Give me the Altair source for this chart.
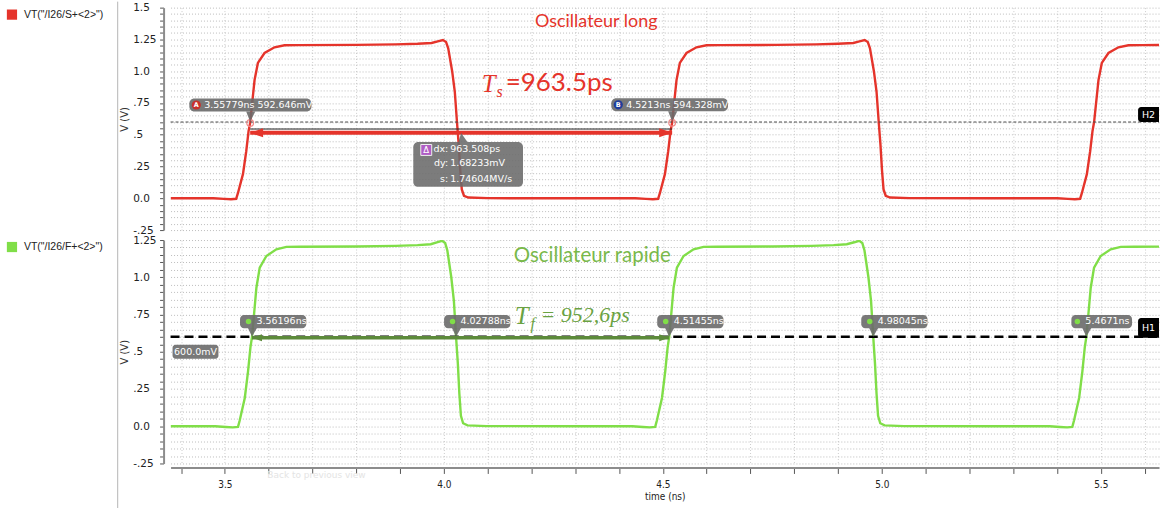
import altair as alt
import pandas as pd

# ---------------------------------------------------------------- data ----
T_MIN, T_MAX = 3.376, 5.633          # visible time window (ns)
THRESHOLD = 0.6                      # H1 / H2 horizontal markers (V)

S_NAME = 'VT("/I26/S+<2>")'
F_NAME = 'VT("/I26/F+<2>")'

# slow oscillator output, time (ns) / voltage (V)
S_TIME = [3.376, 3.4738, 3.4978, 3.5138, 3.5258, 3.5298, 3.5413, 3.5488, 3.5542, 3.5578, 3.5624,
          3.5678, 3.5754, 3.5906, 3.6134, 3.6362, 3.6668,
          3.80, 3.89, 3.94, 3.972, 3.986, 3.998,
          4.005, 4.010, 4.019, 4.025, 4.030, 4.034, 4.0375, 4.041, 4.046, 4.056, 4.10, 4.30,
          4.4373, 4.4613, 4.4773, 4.4893, 4.4933, 4.5048, 4.5123, 4.5177, 4.5213, 4.5259, 4.5313,
          4.5389, 4.5541, 4.5769, 4.5997, 4.6303,
          4.76, 4.85, 4.90, 4.935, 4.949, 4.961,
          4.968, 4.973, 4.982, 4.988, 4.993, 4.997, 5.0005, 5.004, 5.009, 5.019, 5.063, 5.25,
          5.4008, 5.4248, 5.4408, 5.4528, 5.4568, 5.4683, 5.4758, 5.4812, 5.4848, 5.4894, 5.4948,
          5.5024, 5.5176, 5.5404, 5.5632, 5.5938, 5.633]
S_VOLT = [0.0, 0.0, -0.005, -0.008, -0.004, 0.04, 0.19, 0.37, 0.53, 0.593, 0.75,
          0.93, 1.065, 1.143, 1.188, 1.204, 1.205,
          1.207, 1.211, 1.216, 1.222, 1.235, 1.245,
          1.23, 1.18, 1.00, 0.84, 0.60, 0.42, 0.22, 0.07, 0.02, 0.006, 0.001, 0.0,
          0.0, -0.005, -0.008, -0.004, 0.04, 0.19, 0.37, 0.53, 0.594, 0.75, 0.93,
          1.065, 1.143, 1.188, 1.204, 1.205,
          1.207, 1.211, 1.216, 1.222, 1.235, 1.245,
          1.23, 1.18, 1.00, 0.84, 0.60, 0.42, 0.22, 0.07, 0.02, 0.006, 0.001, 0.0,
          0.0, -0.005, -0.008, -0.004, 0.04, 0.19, 0.37, 0.53, 0.60, 0.75, 0.93,
          1.065, 1.143, 1.188, 1.204, 1.205, 1.206]

# fast oscillator output, time (ns) / voltage (V)
F_TIME = [3.376, 3.478, 3.502, 3.518, 3.530, 3.534, 3.5455, 3.553, 3.5584, 3.562, 3.5666,
          3.572, 3.5796, 3.5948, 3.6176, 3.6404, 3.671,
          3.80, 3.89, 3.94, 3.97, 3.984, 3.996,
          4.003, 4.008, 4.017, 4.023, 4.0279, 4.032, 4.0354, 4.039, 4.044, 4.054, 4.098, 4.30,
          4.4306, 4.4546, 4.4706, 4.4826, 4.4866, 4.4981, 4.5056, 4.511, 4.5146, 4.5192, 4.5246,
          4.5322, 4.5474, 4.5702, 4.593, 4.6236,
          4.75, 4.84, 4.89, 4.92, 4.937, 4.9485,
          4.9555, 4.9605, 4.9695, 4.9755, 4.9805, 4.9845, 4.988, 4.9915, 4.9965, 5.0065, 5.0505, 5.25,
          5.3831, 5.4071, 5.4231, 5.4351, 5.4391, 5.4506, 5.4581, 5.4635, 5.4671, 5.4717, 5.4771,
          5.4847, 5.4999, 5.5227, 5.5455, 5.5761, 5.633]
F_VOLT = [0.0, 0.0, -0.005, -0.008, -0.004, 0.04, 0.19, 0.37, 0.53, 0.60, 0.75,
          0.93, 1.065, 1.143, 1.188, 1.204, 1.205,
          1.207, 1.211, 1.216, 1.222, 1.235, 1.245,
          1.23, 1.18, 1.00, 0.84, 0.60, 0.42, 0.22, 0.07, 0.02, 0.006, 0.001, 0.0,
          0.0, -0.005, -0.008, -0.004, 0.04, 0.19, 0.37, 0.53, 0.60, 0.75, 0.93,
          1.065, 1.143, 1.188, 1.204, 1.205,
          1.207, 1.211, 1.216, 1.222, 1.235, 1.245,
          1.23, 1.18, 1.00, 0.84, 0.60, 0.42, 0.22, 0.07, 0.02, 0.006, 0.001, 0.0,
          0.0, -0.005, -0.008, -0.004, 0.04, 0.19, 0.37, 0.53, 0.60, 0.75, 0.93,
          1.065, 1.143, 1.188, 1.204, 1.205, 1.206]

# cursor readouts on the slow signal
CURSOR_T = [3.55779, 4.5213]
CURSOR_MV = [592.646, 594.328]
CURSOR_TAG = ["A", "B"]
DELTA_KEYS = ["dx:", "dy:", "s:"]
DELTA_VALS = ["963.508ps", "1.68233mV", "1.74604MV/s"]
H2_LEVEL_TEXT = "600.0mV"

# threshold crossings of the fast signal (ns)
F_CROSS_T = [3.56196, 4.02788, 4.51455, 4.98045, 5.4671]

TITLE_S = "Oscillateur long"
TITLE_F = "Oscillateur rapide"
PERIOD_S = "=963.5ps"
PERIOD_F = "= 952,6ps"

# axis ticks and labels
X_TICKS = [round(3.4 + 0.1 * i, 1) for i in range(23)]
Y_TOP_TICKS = [round(-0.25 + 0.05 * i, 2) for i in range(36)]
Y_BOT_TICKS = [round(-0.25 + 0.05 * i, 2) for i in range(31)]
Y_LABEL_VALUES = [1.5, 1.25, 1.0, 0.75, 0.5, 0.25, 0.0, -0.25]
Y_LABEL_TEXT = ["1.5", "1.25", "1.0", ".75", ".5", ".25", "0.0", "-.25"]

# ------------------------------------------------------------- styling ----
W, H_TOP, H_BOT = 991, 223, 224
FONT = "DejaVu Sans"
GRID_X = "#cccccc"
GRID_Y = "#bdbdbd"
RED = "#e5342b"
GREEN = "#80de48"
GREEN_TXT = "#79b94a"
GREEN_TF = "#6aa242"
GREEN_ARROW = "#5c8a3a"
TAG_BG = "#6a6a6a"

S_ARROW_V = 0.515       # level of the period arrow in the upper panel
F_ARROW_V = 0.594       # level of the period arrow in the lower panel

Y_EXPR = " : ".join(
    f"round(datum.value * 100) == {round(v * 100)} ? '{s}'"
    for v, s in zip(Y_LABEL_VALUES, Y_LABEL_TEXT)
) + " : ''"
X_EXPR = "abs(datum.value * 2 - round(datum.value * 2)) < 0.001 ? format(datum.value, '.1f') : ''"

X_SCALE = alt.Scale(domain=[T_MIN, T_MAX], nice=False, zero=False)


def y_enc(ticks, domain):
    return alt.Y("v:Q", scale=alt.Scale(domain=domain, nice=False, zero=False),
                 axis=alt.Axis(values=ticks, labelExpr=Y_EXPR, labelOverlap=False,
                               labelBound=False, labelAlign="left", labelPadding=27,
                               labelFont=FONT, labelFontSize=10.5, labelColor="#222",
                               tickSize=4, tickColor="#555", domainColor="#8c8c8c",
                               domainWidth=2, offset=7, grid=True, gridColor=GRID_Y,
                               gridDash=[1, 2], title="V (V)", titleFont=FONT,
                               titleFontSize=10, titleFontWeight="normal", titleColor="#333",
                               titleX=-39, titleBaseline="middle"))


X_TOP = alt.X("t:Q", scale=X_SCALE,
              axis=alt.Axis(values=X_TICKS, labels=False, ticks=False, domain=False,
                            title=None, grid=True, gridColor=GRID_X, gridDash=[1, 2]))
X_BOT = alt.X("t:Q", scale=X_SCALE,
              axis=alt.Axis(values=X_TICKS, labelExpr=X_EXPR, labelOverlap=False,
                            labelFlush=False, labelFont="DejaVu Sans Condensed",
                            labelFontSize=10, labelColor="#222", labelPadding=6, tickSize=6,
                            tickColor="#555", domainColor="#8c8c8c", domainWidth=2, offset=4,
                            grid=True, gridColor=GRID_X, gridDash=[1, 2], title="time (ns)",
                            titleFont="DejaVu Sans Condensed", titleFontSize=10,
                            titleFontWeight="normal", titleColor="#222", titlePadding=2))


def at(t, v, **extra):
    return pd.DataFrame({"t": [t] if not isinstance(t, list) else t,
                         "v": [v] if not isinstance(v, list) else v, **extra})


# every layer below inherits x = t and y = v (with the panel axes) from its parent layer
def arrow(t1, t2, v, color, width, head_size):
    band = alt.Chart(pd.DataFrame({"t": [t1], "t2": [t2], "v": [v]})).mark_rule(
        color=color, strokeWidth=width).encode(x2=alt.X2("t2:Q"))
    left = alt.Chart(at(t1, v)).mark_point(
        shape="M0,0L2,-0.7L2,0.7Z", filled=True, size=head_size, color=color, opacity=1,
        strokeWidth=0)
    right = alt.Chart(at(t2, v)).mark_point(
        shape="M0,0L-2,-0.7L-2,0.7Z", filled=True, size=head_size, color=color, opacity=1,
        strokeWidth=0)
    return [band, left, right]


def legend(name, color):
    d = pd.DataFrame({"n": [name]})
    sq = alt.Chart(d).mark_square(size=105, color=color, opacity=1).encode(
        x=alt.value(-159), y=alt.value(7))
    tx = alt.Chart(d).mark_text(align="left", baseline="middle", font="Liberation Sans",
                                fontSize=10.5, color="#222").encode(
        x=alt.value(-147), y=alt.value(7), text="n:N")
    return [sq, tx]


def period_label(t, v, main, sub, color, main_font, main_style, size, t_dx, sub_dx):
    d = at(t, v, a=["T"], b=[sub], c=[main])
    big_t = alt.Chart(d).mark_text(align="center", baseline="middle", dx=t_dx, dy=1,
                                   font="Liberation Serif", fontStyle="italic",
                                   fontSize=25, color=color).encode(text="a:N")
    sub_t = alt.Chart(d).mark_text(align="center", baseline="middle", dx=sub_dx, dy=9,
                                   font="Liberation Serif", fontStyle="italic",
                                   fontSize=16, color=color).encode(text="b:N")
    body = alt.Chart(d).mark_text(align="left", baseline="middle", font=main_font,
                                  fontStyle=main_style, fontSize=size, color=color).encode(
        text="c:N")
    return [big_t, sub_t, body]


def h_marker(name, dy_top, dy_bot):
    d = at(T_MAX, THRESHOLD, n=[name])
    box = alt.Chart(d).mark_rect(color="black", xOffset=-21, x2Offset=0, yOffset=dy_top,
                                 y2Offset=dy_bot, cornerRadiusTopLeft=3,
                                 cornerRadiusBottomLeft=3).encode(
        x2=alt.X2("t:Q"), y2=alt.Y2("v:Q"))
    txt = alt.Chart(d).mark_text(align="center", baseline="middle", dx=-10.5,
                                 dy=(dy_top + dy_bot) / 2, color="white", font=FONT,
                                 fontSize=9.5).encode(text="n:N")
    return [box, txt]


# ---------------------------------------------------------- upper panel ----
top_layers = []

top_layers.append(alt.Chart(pd.DataFrame({"t": S_TIME, "v": S_VOLT})).mark_line(
    color=RED, strokeWidth=2.4, clip=True))

top_layers.append(alt.Chart(at(T_MIN, THRESHOLD)).mark_rule(
    color="#4a4a4a", strokeWidth=1, strokeDash=[3, 2]).encode(
    x=alt.value(0), x2=alt.value(W)))

# cursor delta line with the hand-drawn period arrow on top
top_layers.append(alt.Chart(pd.DataFrame({"t": [CURSOR_T[0]], "t2": [CURSOR_T[1]],
                                          "v": [S_ARROW_V + 0.03]})).mark_rule(
    color="#222", strokeWidth=1).encode(x2=alt.X2("t2:Q")))
top_layers += arrow(CURSOR_T[0], CURSOR_T[1], S_ARROW_V, RED, 4, 169)

cur_df = pd.DataFrame({"t": CURSOR_T, "v": [mv / 1000 for mv in CURSOR_MV]})
top_layers.append(alt.Chart(cur_df).mark_point(
    shape="circle", size=45, color="#f08a8a", strokeWidth=1.2, opacity=1))

# A / B cursor read-outs
for t, mv, tag, circ in zip(CURSOR_T, CURSOR_MV, CURSOR_TAG, ["#c9302c", "#1f3d9c"]):
    label = f"{t}ns {mv}mV"
    wbox = 18 + 5.5 * len(label)
    d = at(t, mv / 1000, tag=[tag], label=[label])
    top_layers.append(alt.Chart(d).mark_rect(
        color=TAG_BG, opacity=0.9, cornerRadius=5, xOffset=-61, x2Offset=-61 + wbox,
        yOffset=-24.5, y2Offset=-11.5).encode(x2=alt.X2("t:Q"), y2=alt.Y2("v:Q")))
    top_layers.append(alt.Chart(d).mark_point(
        shape="M0,-0.1L-0.35,-1L0.45,-1Z", size=529, filled=True, color=TAG_BG,
        opacity=0.9, strokeWidth=0))
    top_layers.append(alt.Chart(d).mark_circle(
        size=85, color=circ, opacity=1, xOffset=-54, yOffset=-18))
    top_layers.append(alt.Chart(d).mark_text(
        align="center", baseline="middle", dx=-54, dy=-18, color="white", font=FONT,
        fontSize=6.5, fontWeight="bold").encode(text="tag:N"))
    top_layers.append(alt.Chart(d).mark_text(
        align="left", baseline="middle", dx=-46, dy=-18, color="white", font=FONT,
        fontSize=9.5).encode(text="label:N"))

# delta read-out box hanging under the middle of the cursor line
mid = (CURSOR_T[0] + CURSOR_T[1]) / 2
dd = at(mid, S_ARROW_V + 0.03, d=["\u0394"])
top_layers.append(alt.Chart(dd).mark_rect(
    color=TAG_BG, opacity=0.88, cornerRadius=5, xOffset=-48, x2Offset=62,
    yOffset=13, y2Offset=58).encode(x2=alt.X2("t:Q"), y2=alt.Y2("v:Q")))
top_layers.append(alt.Chart(dd).mark_point(
    shape="M0,0L-0.3,1L0.7,1Z", size=324, filled=True, color=TAG_BG, opacity=0.88,
    strokeWidth=0, yOffset=4))
top_layers.append(alt.Chart(dd).mark_square(
    size=120, color="#b05cc4", opacity=1, stroke="#eeeeee", strokeWidth=1,
    xOffset=-35, yOffset=21))
top_layers.append(alt.Chart(dd).mark_text(
    align="center", baseline="middle", dx=-35, dy=21, color="white", font=FONT,
    fontSize=8.5).encode(text="d:N"))
for k, v, row in zip(DELTA_KEYS, DELTA_VALS, [20, 34, 50]):
    dk = at(mid, S_ARROW_V + 0.03, k=[k], val=[v])
    top_layers.append(alt.Chart(dk).mark_text(
        align="right", baseline="middle", dx=-13, dy=row, color="white", font=FONT,
        fontSize=9.5).encode(text="k:N"))
    top_layers.append(alt.Chart(dk).mark_text(
        align="left", baseline="middle", dx=-11, dy=row, color="white", font=FONT,
        fontSize=9.5).encode(text="val:N"))

top_layers.append(alt.Chart(at(4.348, 1.389, s=[TITLE_S])).mark_text(
    align="center", baseline="middle", font="Lato", fontSize=18, color=RED).encode(
    text="s:N"))
top_layers += period_label(4.1412, 0.91, PERIOD_S, "s", RED, "Lato", "normal", 26, -17, -6)
top_layers += h_marker("H2", -15, 0)
top_layers += legend(S_NAME, RED)

# column separator between the signal list and the plots
top_layers.append(alt.Chart(at(T_MIN, 0.0)).mark_rule(color="#b5b5b5", strokeWidth=1).encode(
    x=alt.value(-53), y=alt.value(-6), y2=alt.value(502)))
top_layers.append(alt.Chart(at(T_MIN, 0.0)).mark_rule(color="white", strokeWidth=1).encode(
    x=alt.value(-170), y=alt.value(-6), y2=alt.value(0)))

top = alt.layer(*top_layers).encode(
    x=X_TOP, y=y_enc(Y_TOP_TICKS, [-0.25, 1.5])).properties(width=W, height=H_TOP)

# ---------------------------------------------------------- lower panel ----
bot_layers = []

bot_layers.append(alt.Chart(pd.DataFrame({"t": F_TIME, "v": F_VOLT})).mark_line(
    color=GREEN, strokeWidth=2.4, clip=True))

bot_layers.append(alt.Chart(at(T_MIN, THRESHOLD)).mark_rule(
    color="black", strokeWidth=2.5, strokeDash=[9, 5]).encode(
    x=alt.value(0), x2=alt.value(W)))

bot_layers += arrow(F_CROSS_T[0], F_CROSS_T[2], F_ARROW_V, GREEN_ARROW, 3.5, 100)


def crossing_tags(times, left, dot_dx, text_dx):
    labels = [f"{t}ns" for t in times]
    d = pd.DataFrame({"t": times, "v": [THRESHOLD] * len(times), "label": labels})
    wbox = 16 + 5.6 * max(len(s) for s in labels)
    return [
        alt.Chart(d).mark_rect(color=TAG_BG, opacity=0.9, cornerRadius=4, xOffset=left,
                               x2Offset=left + wbox, yOffset=-22, y2Offset=-8.6).encode(
            x2=alt.X2("t:Q"), y2=alt.Y2("v:Q")),
        alt.Chart(d).mark_point(shape="M0,0L-0.45,-1L0.55,-1Z", size=324, filled=True,
                                color=TAG_BG, opacity=0.9, strokeWidth=0),
        alt.Chart(d).mark_circle(size=30, color=GREEN, opacity=1, xOffset=dot_dx,
                                 yOffset=-15.5),
        alt.Chart(d).mark_text(align="left", baseline="middle", dx=text_dx, dy=-15.5,
                               color="white", font=FONT, fontSize=9.5).encode(text="label:N"),
    ]


bot_layers += crossing_tags(F_CROSS_T[:4], -12, -3.5, 4.5)
bot_layers += crossing_tags(F_CROSS_T[4:], -15, -9, -1)

lv = at(T_MIN, THRESHOLD, s=[H2_LEVEL_TEXT])
bot_layers.append(alt.Chart(lv).mark_rect(
    color=TAG_BG, opacity=0.9, cornerRadius=3, xOffset=2, x2Offset=48, yOffset=8,
    y2Offset=22).encode(x2=alt.X2("t:Q"), y2=alt.Y2("v:Q")))
bot_layers.append(alt.Chart(lv).mark_text(
    align="center", baseline="middle", dx=25, dy=15, color="white", font=FONT,
    fontSize=9.5).encode(text="s:N"))

bot_layers.append(alt.Chart(at(4.339, 1.143, s=[TITLE_F])).mark_text(
    align="center", baseline="middle", font="Lato", fontSize=20.5, color=GREEN_TXT).encode(
    text="s:N"))
bot_layers += period_label(4.2209, 0.748, PERIOD_F, "f", GREEN_TF, "Liberation Serif",
                           "italic", 22, -19, -8)
bot_layers += h_marker("H1", -19, 1)
bot_layers += legend(F_NAME, GREEN)

bot_layers.append(alt.Chart(pd.DataFrame({"s": ["Back to previous view"]})).mark_text(
    align="left", baseline="middle", font=FONT, fontSize=9, color="#e4e4e4").encode(
    x=alt.value(97), y=alt.value(H_BOT + 12), text="s:N"))

bot = alt.layer(*bot_layers).encode(
    x=X_BOT, y=y_enc(Y_BOT_TICKS, [-0.25, 1.25])).properties(width=W, height=H_BOT)

chart = alt.vconcat(top, bot, spacing=10, bounds="flush").properties(
    padding=0, background="white").configure_view(stroke=None)

chart.save("out.html", embed_options={"renderer": "svg", "actions": False})
